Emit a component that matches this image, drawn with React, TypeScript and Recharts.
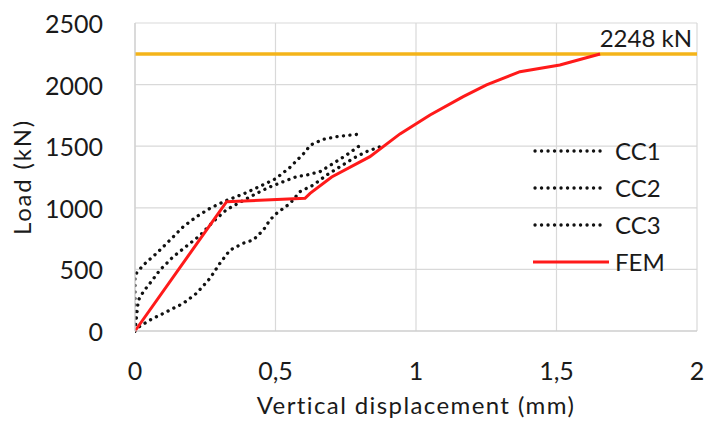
import React from 'react';
import { LineChart, Line, XAxis, YAxis, CartesianGrid, ReferenceLine, Legend } from 'recharts';

const xTicks = [0, 0.5, 1, 1.5, 2];
const yTicks = [0, 500, 1000, 1500, 2000, 2500];

const cc1X = [0, 0, 0.03, 0.077, 0.125, 0.172, 0.219, 0.267, 0.326, 0.385, 0.44, 0.5, 0.55, 0.6, 0.625, 0.67, 0.72, 0.8];
const cc1Y = [0, 455, 536, 631, 739, 847, 928, 996, 1060, 1112, 1170, 1235, 1325, 1440, 1510, 1556, 1578, 1598];

const cc2X = [0, 0.012, 0.03, 0.053, 0.089, 0.136, 0.184, 0.231, 0.279, 0.326, 0.374, 0.433, 0.48, 0.528, 0.575, 0.611, 0.658, 0.706, 0.753, 0.8];
const cc2Y = [0, 250, 320, 387, 495, 603, 690, 775, 890, 985, 1045, 1118, 1169, 1212, 1253, 1266, 1293, 1361, 1429, 1505];

const cc3X = [0, 0.006, 0.053, 0.113, 0.172, 0.219, 0.267, 0.302, 0.338, 0.385, 0.421, 0.457, 0.48, 0.504, 0.552, 0.587, 0.635, 0.682, 0.73, 0.777, 0.824, 0.872, 0.885];
const cc3Y = [0, 22, 89, 157, 225, 306, 428, 549, 657, 712, 739, 820, 901, 955, 1036, 1131, 1185, 1266, 1334, 1402, 1456, 1496, 1510];

const femX = [0, 0.326, 0.605, 0.623, 0.7, 0.836, 0.943, 1.05, 1.168, 1.251, 1.37, 1.512, 1.655];
const femY = [0, 1050, 1077, 1117, 1250, 1415, 1600, 1753, 1902, 1997, 2105, 2159, 2248];

const capacity = 2248;
const capacityLabel = '2248 kN';
const xTitle = 'Vertical displacement (mm)';
const yTitle = 'Load (kN)';

const toData = (xs: number[], ys: number[]) => xs.map((x, i) => ({ x, y: ys[i] }));

const FONT = 'Lato, "Open Sans", sans-serif';
const TEXT = '#1a1a1a';
const DOT = { stroke: '#111', strokeWidth: 3.3, strokeDasharray: '0.1 6.4', strokeLinecap: 'round' as const };

const series = [
  { name: 'CC1', data: toData(cc1X, cc1Y), dotted: true },
  { name: 'CC2', data: toData(cc2X, cc2Y), dotted: true },
  { name: 'CC3', data: toData(cc3X, cc3Y), dotted: true },
  { name: 'FEM', data: toData(femX, femY), dotted: false },
];

const fmt = (v: number) => String(v).replace('.', ',');

const XTick = (props: any) => {
  const { x, payload } = props;
  return (
    <text x={x} y={370} textAnchor="middle" dominantBaseline="central" fontSize={25} fontFamily={FONT} fill={TEXT}>
      {fmt(payload.value)}
    </text>
  );
};

const YTick = (props: any) => {
  const { y, payload } = props;
  return (
    <text x={103} y={y} textAnchor="end" dominantBaseline="central" fontSize={25} fontFamily={FONT} fill={TEXT}>
      {payload.value}
    </text>
  );
};

const XTitle = (props: any) => {
  const vb = props.viewBox || {};
  return (
    <text x={vb.x + vb.width / 2} y={404} textAnchor="middle" dominantBaseline="central" fontSize={24} letterSpacing={1.4} fontFamily={FONT} fill={TEXT}>
      {xTitle}
    </text>
  );
};

const YTitle = (props: any) => {
  const vb = props.viewBox || {};
  const cy = vb.y + vb.height / 2;
  return (
    <text x={21} y={cy} transform={`rotate(-90 21 ${cy})`} textAnchor="middle" dominantBaseline="central" fontSize={24} letterSpacing={1.8} fontFamily={FONT} fill={TEXT}>
      {yTitle}
    </text>
  );
};

const renderLegend = () => (
  <div style={{ fontFamily: FONT, fontSize: 24, color: TEXT }}>
    {series.map((s) => (
      <div key={s.name} style={{ display: 'flex', alignItems: 'center', height: 37 }}>
        <svg width={78} height={10} style={{ display: 'block' }}>
          {s.dotted ? (
            <line x1={2} y1={5} x2={70} y2={5} {...DOT} />
          ) : (
            <line x1={0} y1={5} x2={76} y2={5} stroke="#ff1a1a" strokeWidth={3} />
          )}
        </svg>
        <span style={{ marginLeft: 4, lineHeight: '24px' }}>{s.name}</span>
      </div>
    ))}
  </div>
);

const CapLabel = (props: any) => {
  const vb = props.viewBox || {};
  return (
    <text x={vb.x + vb.width - 5} y={vb.y - 17} textAnchor="end" dominantBaseline="central" fontSize={24} fontFamily={FONT} fill={TEXT}>
      {capacityLabel}
    </text>
  );
};

export default function App() {
  return (
    <div style={{ position: 'absolute', left: 0, top: 0, width: 709, height: 421, background: '#fff' }}>
      <LineChart width={709} height={421} margin={{ top: 23, right: 12, left: 0, bottom: 0 }}>
        <CartesianGrid stroke="#d9d9d9" strokeWidth={1.2} />
        <XAxis
          dataKey="x"
          type="number"
          domain={[0, 2]}
          ticks={xTicks}
          allowDataOverflow
          height={90}
          tickLine={false}
          axisLine={{ stroke: '#c8c8c8', strokeWidth: 1.2 }}
          tick={<XTick />}
          label={<XTitle />}
        />
        <YAxis
          type="number"
          domain={[0, 2500]}
          ticks={yTicks}
          width={135}
          tickLine={false}
          axisLine={{ stroke: '#d0d0d0', strokeWidth: 1.2 }}
          tick={<YTick />}
          label={<YTitle />}
        />
        <ReferenceLine y={capacity} stroke="#F4B41A" strokeWidth={3.5} ifOverflow="extendDomain" label={<CapLabel />} />
        {series.map((s) =>
          s.dotted ? (
            <Line
              key={s.name}
              data={s.data}
              dataKey="y"
              name={s.name}
              type="linear"
              dot={false}
              activeDot={false}
              isAnimationActive={false}
              {...DOT}
            />
          ) : (
            <Line
              key={s.name}
              data={s.data}
              dataKey="y"
              name={s.name}
              type="linear"
              stroke="#ff1a1a"
              strokeWidth={3}
              dot={false}
              activeDot={false}
              isAnimationActive={false}
            />
          )
        )}
        <Legend
          layout="vertical"
          align="center"
          verticalAlign="middle"
          content={renderLegend}
          wrapperStyle={{ left: 533, top: 132, width: 160, height: 150 }}
        />
      </LineChart>
    </div>
  );
}
